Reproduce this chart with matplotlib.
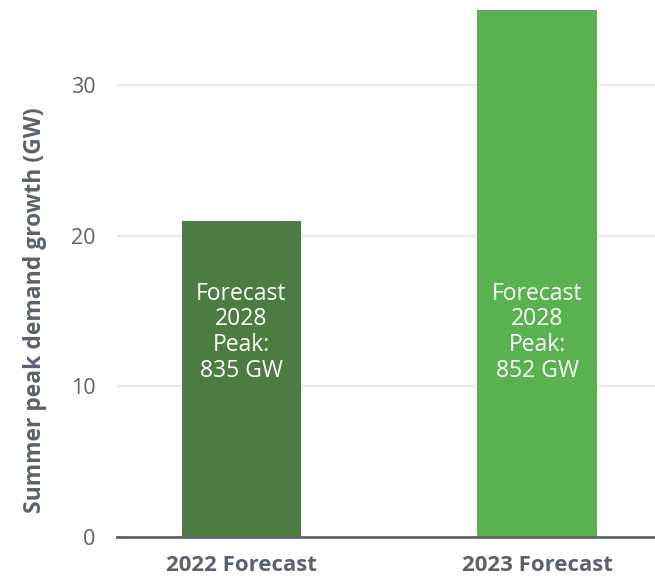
import matplotlib
matplotlib.use("Agg")
import matplotlib.pyplot as plt

# Data
categories = ["2022 Forecast", "2023 Forecast"]
growth_gw = [21, 35]
peak_gw = [835, 852]
bar_colors = ["#4a7d3f", "#5ab14f"]

plt.rcParams["font.family"] = ["Open Sans", "DejaVu Sans"]

fig = plt.figure(figsize=(6.55, 5.76), dpi=100)
ax = fig.add_axes([0.1786, 0.0677, 0.8214, 0.9149])

x = list(range(len(categories)))
bars = ax.bar(x, growth_gw, width=0.403, color=bar_colors, zorder=3)

ax.set_xlim(-0.421, 1.399)
ax.set_ylim(0, 35)
ax.set_yticks([0, 10, 20, 30])

ax.grid(axis="y", color="#ebebeb", linewidth=1.6, zorder=0)
ax.set_axisbelow(True)

for side in ["top", "right", "left"]:
    ax.spines[side].set_visible(False)
ax.spines["bottom"].set_color("#5d6670")
ax.spines["bottom"].set_linewidth(2)
ax.spines["bottom"].set_zorder(4)

ax.tick_params(axis="y", length=0, pad=15.5, labelsize=15.5, labelcolor="#5a6270")
ax.tick_params(axis="x", length=0, pad=13, labelcolor="#5a6270")
ax.set_xticks(x)
ax.set_xticklabels(categories, fontsize=16, fontweight="bold")

ax.set_ylabel("Summer peak demand growth (GW)", fontsize=16.5,
              fontweight="bold", color="#5a6270")
ax.yaxis.set_label_coords(-0.131, 0.431)

# Peak labels inside each bar
for xi, peak in zip(x, peak_gw):
    ax.text(xi, 13.6, f"Forecast\n2028\nPeak:\n{peak} GW", ha="center",
            va="center", color="white", fontsize=16.5, linespacing=1.1,
            zorder=5)

fig.savefig("out.png", dpi=100)
